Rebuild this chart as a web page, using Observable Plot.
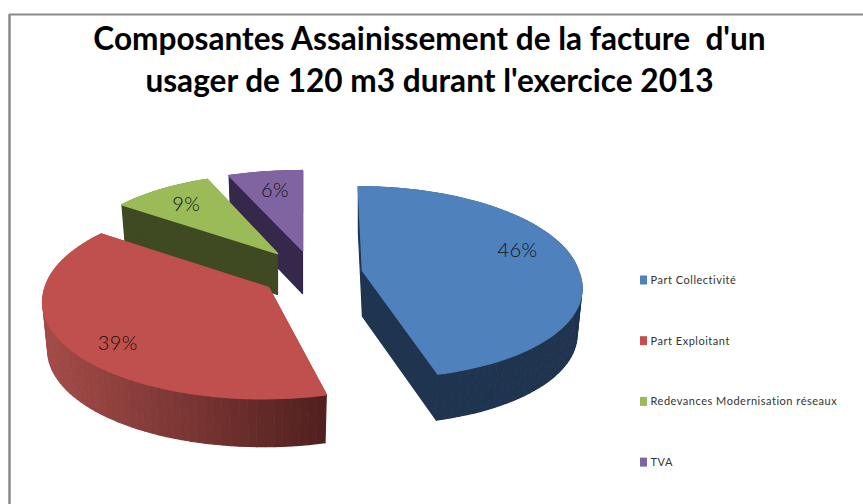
<!DOCTYPE html>
<html><head><meta charset="utf-8">
<script src="https://cdn.jsdelivr.net/npm/d3@7"></script>
<script src="https://cdn.jsdelivr.net/npm/@observablehq/plot@0.6"></script>
<style>html,body{margin:0;padding:0;background:#fff}svg{display:block;white-space:pre}.legend-text text{letter-spacing:.52px}.pct text{letter-spacing:.4px}</style>
</head><body><div id="chart"></div>
<script>
const titleLines = ["Composantes Assainissement de la facture  d'un", "usager de 120 m3 durant l'exercice 2013"];
const categories = ["Part Collectivité", "Part Exploitant", "Redevances Modernisation réseaux", "TVA"];
const values = [46, 39, 9, 6];
const labels = ["46%", "39%", "9%", "6%"];
const colors = ["#4f81bd", "#c0504d", "#9bbb59", "#8064a2"];
const wallColors = ["#1f344f", "#a34b48", "#3f4a23", "#35284a"];

// layout of the perspective pie (each slice is pulled out from the others)
const W = 863, H = 504;
const view = {a: 219, d: 95.5, h: 0.124, wallScale: 0.978};
const slices = [
  {ax: 362, ay: 270, scale: 0.985, sx: 1,    skewBack: 0.05, skewFront: 0.14,  depth: 46, ldx: 3,  ldy: -12},
  {ax: 268, ay: 287, scale: 1.02,  sx: 1,    skewBack: -0.02, skewFront: -0.05, depth: 48, ldx: 8,  ldy: 10},
  {ax: 277, ay: 253, scale: 0.93,  sx: 1,    skewBack: 0.04, skewFront: 0,     depth: 41, ldx: -10, ldy: -4},
  {ax: 302, ay: 250, scale: 0.94,  sx: 1.08, skewBack: 0,    skewFront: 0,     depth: 43, ldx: -2, ldy: -6}
];
const labelReach = [0.72, 0.8, 0.68, 0.66];

const total = d3.sum(values);
const cum = d3.cumsum(values);
const rad = d => d * Math.PI / 180;
function project(s, theta, rho = 1) {
  const u = rho * Math.sin(theta), v = rho * Math.cos(theta);
  const den = 1 + view.h * v;
  const Y = -view.d * v / den;
  const X = s.sx * view.a * u / den + (Y > 0 ? s.skewFront : s.skewBack) * Y;
  return [s.ax + s.scale * X, s.ay + s.scale * Y];
}
const darkRed = d3.interpolateRgb("#a34b48", "#50201e");
const drawOrder = [3, 2, 1, 0];
const sliceMarks = drawOrder.flatMap(i => {
  const s = slices[i];
  const t0 = (i ? cum[i - 1] : 0) / total * 2 * Math.PI;
  const t1 = cum[i] / total * 2 * Math.PI;
  const n = Math.ceil((t1 - t0) / rad(2));
  const top = [[s.ax, s.ay]];
  for (let k = 0; k <= n; k++) top.push(project(s, t0 + (t1 - t0) * k / n));
  const low = ([x, y]) => [s.ax + (x - s.ax) * view.wallScale, y + s.depth];
  const wallRows = [];
  top.forEach((p, k) => {
    const q = top[(k + 1) % top.length];
    const color = i === 1
      ? darkRed(Math.max(0, Math.min(1, ((p[0] + q[0]) / 2 - 45) / 282)))
      : wallColors[i];
    for (const [x, y] of [p, q, low(q), low(p)]) wallRows.push({id: k, x, y, color});
  });
  const topRows = [...top, top[0]].map(([x, y]) => ({x, y}));
  return [
    Plot.line(wallRows, {x: "x", y: "y", z: "id", fill: "color", stroke: "color", strokeWidth: 1.2, curve: "linear"}),
    Plot.line(topRows, {x: "x", y: "y", fill: colors[i], stroke: colors[i], strokeWidth: 1.6, curve: "linear"})
  ];
});
const labelRows = labels.map((text, i) => {
  const t0 = (i ? cum[i - 1] : 0) / total * 360, t1 = cum[i] / total * 360;
  const s = slices[i];
  const [x, y] = project(s, rad((t0 + t1) / 2), labelReach[i]);
  return {text, x: x + s.ldx, y: y + s.ldy};
});
const legendRows = categories.map((name, i) => ({name, i, color: colors[i]}));
const legendY = i => 280 + i * 60.7;

const chart = Plot.plot({
  width: W, height: H,
  margin: 0,
  x: {domain: [0, W], range: [0, W], axis: null},
  y: {domain: [0, H], range: [0, H], axis: null},
  style: {background: "#fff", fontFamily: "Lato, sans-serif"},
  marks: [
    Plot.ruleX([9], {y1: 14, y2: H, stroke: "#8a8a8a", strokeWidth: 2.5}),
    Plot.ruleY([14], {x1: 9, x2: W, stroke: "#8a8a8a", strokeWidth: 2}),
    ...sliceMarks,
    Plot.text(labelRows, {x: "x", y: "y", text: "text", fontSize: 20, fontWeight: 300, fill: "#111", fontFamily: "Lato, sans-serif", className: "pct"}),
    Plot.text(titleLines, {x: () => 429, y: (d, i) => 39 + i * 42, text: d => d, fontSize: 31.6, fontWeight: 700, fill: "#000", fontFamily: "Lato, sans-serif"}),
    Plot.rect(legendRows, {x1: () => 640, x2: () => 647, y1: d => legendY(d.i) - 4.5, y2: d => legendY(d.i) + 4.5, fill: "color"}),
    Plot.text(legendRows, {x: () => 650, y: d => legendY(d.i), text: "name", textAnchor: "start", fontSize: 11, fill: "#333", fontFamily: "Lato, sans-serif", className: "legend-text"})
  ]
});
document.getElementById("chart").append(chart);
</script></body></html>
